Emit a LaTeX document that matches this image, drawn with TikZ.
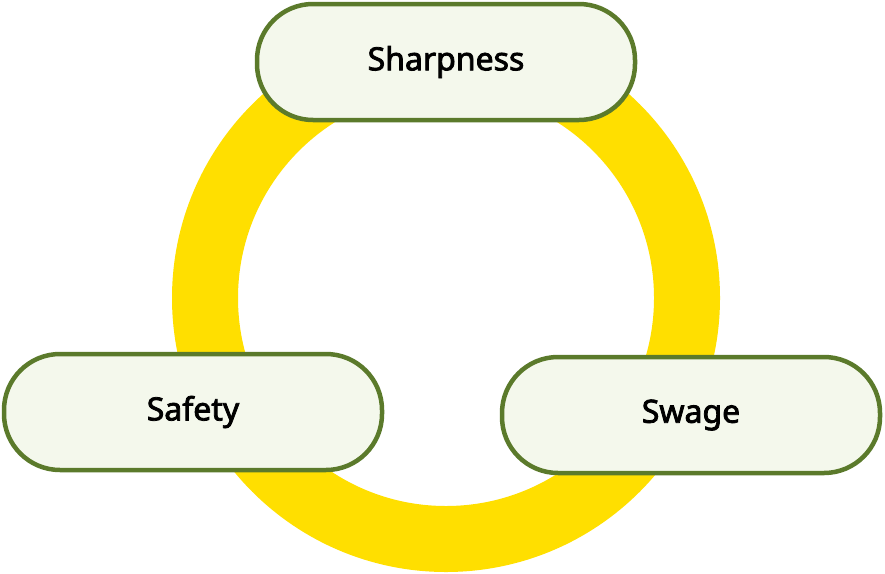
\documentclass[tikz,border=0pt]{standalone}
\usepackage{fontspec}
\setmainfont{Noto Sans}[AutoFakeBold=2.5]
\definecolor{ring}{HTML}{FFDF00}
\definecolor{edge}{HTML}{5B7A2B}
\definecolor{boxfill}{HTML}{F4F8EC}
\begin{document}
\begin{tikzpicture}[x=1pt,y=-1pt,
  pill/.style={draw=edge,line width=4.5pt,fill=boxfill,rounded corners=56pt,minimum width=378pt,minimum height=116pt,font=\fontsize{32}{38}\selectfont\bfseries}]
\useasboundingbox (0,0) rectangle (885,573);
\coordinate (c) at (446,298);
\draw[ring,line width=66pt] (c) circle[radius=241];
\node[pill] (sharp) at (446,62) {Sharpness};
\node[pill] (safe) at (193,412) {Safety};
\node[pill] (swage) at (691,415) {Swage};
\end{tikzpicture}
\end{document}
